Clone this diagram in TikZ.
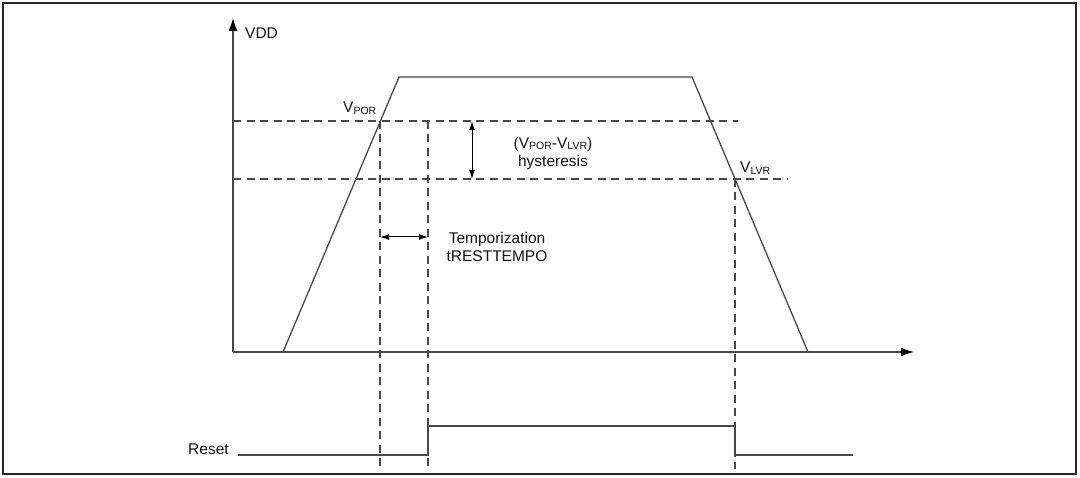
\documentclass[tikz,border=0pt]{standalone}
\usepackage{fontspec}
\setmainfont{Liberation Sans}
\usetikzlibrary{arrows.meta}
\definecolor{ln}{HTML}{484848}
\definecolor{tx}{HTML}{111111}
\newcommand{\vsub}[2]{#1\raisebox{-0.1em}{\fontsize{10.5}{11}\selectfont #2}}
\begin{document}
\begin{tikzpicture}[x=1pt,y=-1pt,
  wave/.style={draw=ln,line width=1.3pt,line join=miter},
  guide/.style={draw=ln,line width=1.1pt,dash pattern=on 8pt off 5.5pt},
  axisarrow/.style={draw=ln,line width=1.3pt,-{Latex[length=13pt,width=9pt,fill=black,color=black]}},
  dimarrow/.style={draw=black,line width=1pt,{Latex[length=9pt,width=6pt]}-{Latex[length=9pt,width=6pt]}},
  lbl/.style={text=tx,font=\fontsize{15.5}{18}\selectfont,inner sep=0pt}]
\useasboundingbox (0,0) rectangle (1080,478);
\draw[line width=2.2pt,color=black!85] (3,3) rectangle (1076,474);
% coordinates
\coordinate (O) at (233,352);
\coordinate (ytip) at (233,18);
\coordinate (xtip) at (914,352);
\coordinate (r0) at (283,352);
\coordinate (r1) at (399,77);
\coordinate (f1) at (692,77);
\coordinate (f0) at (808,352);
\coordinate (porL) at (233,121);
\coordinate (porR) at (738,121);
\coordinate (lvrL) at (233,179);
\coordinate (lvrR) at (788,179);
\coordinate (a0) at (380,121);
\coordinate (a1) at (380,467);
\coordinate (b0) at (428,121);
\coordinate (b1) at (428,467);
\coordinate (c0) at (735,179);
\coordinate (c1) at (735,469);
\coordinate (h0) at (472,121);
\coordinate (h1) at (472,179);
\coordinate (t0) at (380,237);
\coordinate (t1) at (428,237);
\coordinate (s0) at (238,455);
\coordinate (s1) at (428,455);
\coordinate (s2) at (428,426);
\coordinate (s3) at (735,426);
\coordinate (s4) at (735,455);
\coordinate (s5) at (853,455);
% guides
\draw[guide] (porL) -- (porR);
\draw[guide] (lvrL) -- (lvrR);
\draw[guide] (a0) -- (a1);
\draw[guide] (b0) -- (b1);
\draw[guide] (c0) -- (c1);
% axes
\draw[axisarrow] (O) -- (ytip);
\draw[axisarrow] (O) -- (xtip);
% VDD waveform
\draw[wave] (r0) -- (r1) -- (f1) -- (f0);
% dimension arrows
\draw[dimarrow] (h0) -- (h1);
\draw[dimarrow] (t0) -- (t1);
% reset waveform
\draw[wave] (s0) -- (s1) -- (s2) -- (s3) -- (s4) -- (s5);
% labels
\node[lbl,anchor=base west] (vdd) at (245,39) {VDD};
\node[lbl,anchor=base west] (vpor) at (343,113) {\vsub{V}{POR}};
\node[lbl,anchor=base west] (vlvr) at (740,173) {\vsub{V}{LVR}};
\node[lbl,align=center] (hyst) at (553,153) {(\vsub{V}{POR}-\vsub{V}{LVR})\\hysteresis};
\node[lbl,align=center] (temp) at (497,247) {Temporization\\tRESTTEMPO};
\node[lbl,anchor=base west] (reset) at (188,455) {Reset};
\end{tikzpicture}
\end{document}
